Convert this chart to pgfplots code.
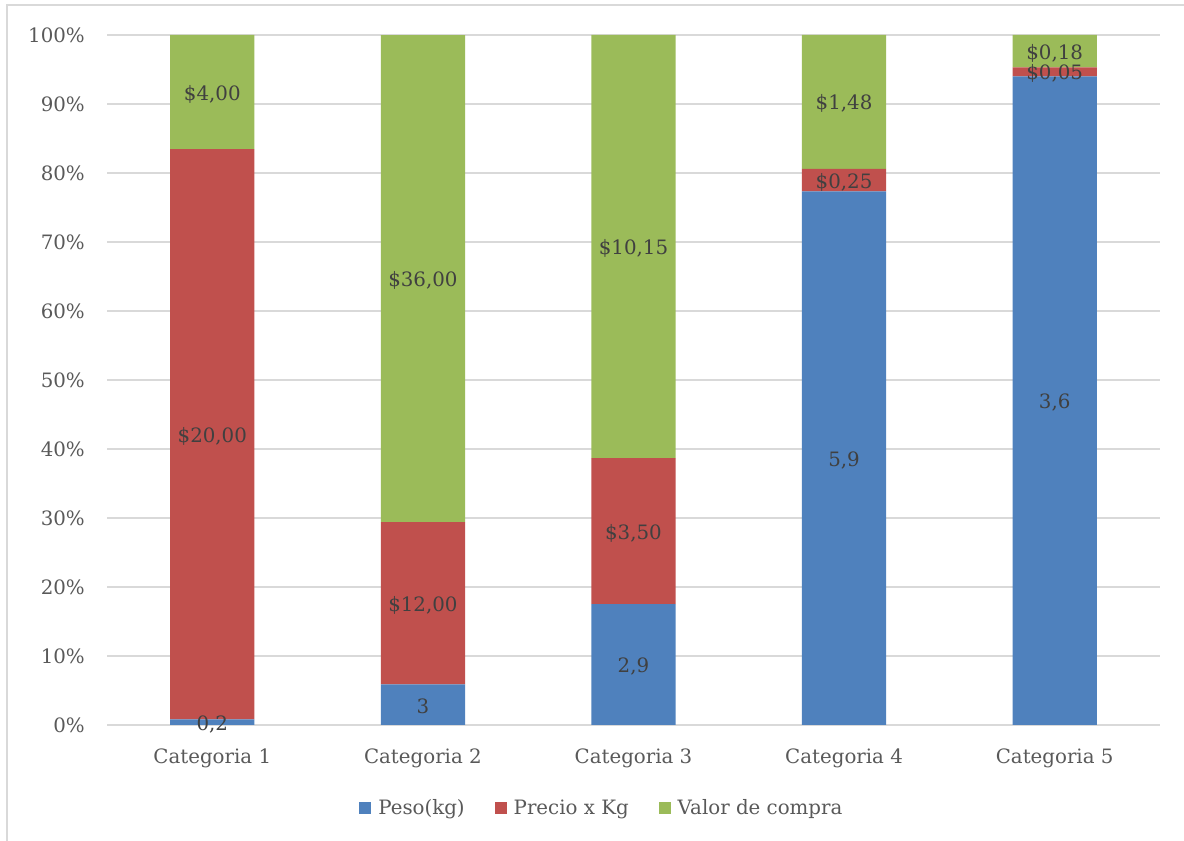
\documentclass[border=0pt]{standalone}
\usepackage{fontspec}
\setmainfont{DejaVu Serif}
\usepackage{pgfplots}
\usepackage{pgfplotstable}
\pgfplotsset{compat=1.18}

\definecolor{pesoazul}{HTML}{4F81BD}
\definecolor{preciorojo}{HTML}{C0504D}
\definecolor{valorverde}{HTML}{9BBB59}
\definecolor{rejilla}{HTML}{D9D9D9}
\definecolor{textogris}{HTML}{595959}
\definecolor{etiqueta}{HTML}{404040}

\newcommand{\fuente}{\fontsize{19.8bp}{23bp}\selectfont}

% Peso (kg), precio por kg y valor de compra por categoria
\pgfplotstableread{
x peso precio valor
0 0.2  20    4
1 3    12    36
2 2.9  3.5   10.15
3 5.9  0.25  1.48
4 3.6  0.05  0.18
}\datos

\pgfplotsset{
  base/.style={
    scale only axis,
    width=1053bp, height=690bp,
    at={(107bp,116bp)}, anchor=south west,
    xmin=-0.5, xmax=4.5, ymin=0, ymax=100,
  },
}

\newcommand{\total}{(\thisrow{peso}+\thisrow{precio}+\thisrow{valor})}

\begin{document}
\begin{tikzpicture}
\useasboundingbox (0,0) rectangle (1184bp,841bp);
\draw[rejilla, line width=1.5bp] (7bp,0) -- (7bp,836bp) -- (1184bp,836bp);

\begin{axis}[
  base,
  ybar stacked,
  bar width=0.4,
  axis line style={draw=none},
  major tick length=0pt,
  ymajorgrids,
  grid style={rejilla, line width=1.5bp},
  ytick={0,10,...,100},
  yticklabel={\pgfmathprintnumber{\tick}\%},
  xtick={0,1,2,3,4},
  xticklabels={Categoria 1,Categoria 2,Categoria 3,Categoria 4,Categoria 5},
  /pgf/number format/assume math mode=true,
  tick label style={font=\fuente, text=textogris, inner sep=0pt},
  yticklabel style={anchor=east, xshift=-22bp},
  xticklabel style={anchor=base, yshift=-39bp},
  legend columns=3,
  legend style={
    at={(0.470,-0.120)}, anchor=center,
    draw=none, fill=none,
    font=\fuente, text=textogris,
    /tikz/every even column/.append style={column sep=28bp},
    /tikz/every odd column/.append style={column sep=5bp},
  },
  legend image code/.code={\fill[#1] (0bp,-6bp) rectangle (12bp,6bp);},
]
\addplot[fill=pesoazul, draw=none]
  table[x=x, y expr={100*\thisrow{peso}/\total}] {\datos};
\addplot[fill=preciorojo, draw=none]
  table[x=x, y expr={100*\thisrow{precio}/\total}] {\datos};
\addplot[fill=valorverde, draw=none]
  table[x=x, y expr={100*\thisrow{valor}/\total}] {\datos};
\legend{Peso(kg),Precio x Kg,Valor de compra}
\end{axis}

% Etiquetas de valor centradas en cada tramo
\begin{axis}[
  base,
  hide axis,
  point meta=explicit,
  nodes near coords align={center},
  every node near coord/.append style={font=\fuente, text=etiqueta, anchor=center, inner sep=0pt, yshift=-2bp},
]
\addplot[draw=none, mark=none,
  nodes near coords={\pgfmathprintnumber[fixed,precision=1,use comma,assume math mode=true]{\pgfplotspointmeta}}]
  table[x=x, y expr={50*\thisrow{peso}/\total}, meta=peso] {\datos};
\addplot[draw=none, mark=none,
  nodes near coords={\$\pgfmathprintnumber[fixed,fixed zerofill,precision=2,use comma,assume math mode=true]{\pgfplotspointmeta}}]
  table[x=x, y expr={100*(\thisrow{peso}+0.5*\thisrow{precio})/\total}, meta=precio] {\datos};
\addplot[draw=none, mark=none,
  nodes near coords={\$\pgfmathprintnumber[fixed,fixed zerofill,precision=2,use comma,assume math mode=true]{\pgfplotspointmeta}}]
  table[x=x, y expr={100*(\thisrow{peso}+\thisrow{precio}+0.5*\thisrow{valor})/\total}, meta=valor] {\datos};
\end{axis}
\end{tikzpicture}
\end{document}
